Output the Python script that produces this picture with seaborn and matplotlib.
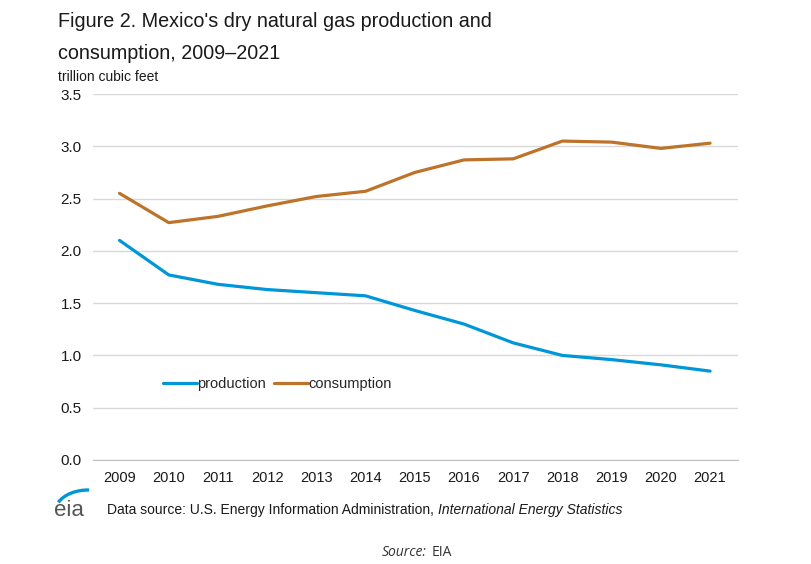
import pandas as pd
import matplotlib.pyplot as plt
import seaborn as sns
from matplotlib.patches import Arc

years = [2009, 2010, 2011, 2012, 2013, 2014, 2015, 2016, 2017, 2018, 2019, 2020, 2021]
production = [2.10, 1.77, 1.68, 1.63, 1.60, 1.57, 1.43, 1.30, 1.12, 1.00, 0.96, 0.91, 0.85]
consumption = [2.55, 2.27, 2.33, 2.43, 2.52, 2.57, 2.75, 2.87, 2.88, 3.05, 3.04, 2.98, 3.03]

df = pd.DataFrame({"year": years + years,
                   "value": production + consumption,
                   "series": ["production"] * len(years) + ["consumption"] * len(years)})

sns.set_style("white")
plt.rcParams["font.family"] = ["Liberation Sans", "DejaVu Sans"]

fig = plt.figure(figsize=(8.12, 5.64), dpi=100)
ax = fig.add_axes([0.1145, 0.1844, 0.7945, 0.6489])

sns.lineplot(data=df, x="year", y="value", hue="series",
             palette={"production": "#0096d7", "consumption": "#bd732a"},
             linewidth=2.3, ax=ax)

ax.set_xlim(2008.46, 2021.57)
ax.set_ylim(0, 3.5)
ax.set_xticks(years)
ax.set_yticks([0, 0.5, 1.0, 1.5, 2.0, 2.5, 3.0, 3.5])
ax.set_yticklabels(["0.0", "0.5", "1.0", "1.5", "2.0", "2.5", "3.0", "3.5"])
ax.yaxis.grid(True, color="#d9d9d9", linewidth=1)
ax.set_axisbelow(True)
for s in ["top", "right", "left"]:
    ax.spines[s].set_visible(False)
ax.spines["bottom"].set_color("#bfbfbf")
ax.tick_params(axis="x", length=0, labelsize=10.5, colors="#1a1a1a", pad=8)
ax.tick_params(axis="y", length=0, labelsize=11, colors="#1a1a1a", pad=8)
ax.set_xlabel("")
ax.set_ylabel("")

ax.legend(loc="center left", bbox_to_anchor=(0.1, 0.207), ncol=2, frameon=False,
          fontsize=10.5, handlelength=2.3, handletextpad=0.0, columnspacing=0.6,
          borderaxespad=0)

fig.text(0.071, 0.952, "Figure 2. Mexico's dry natural gas production and", fontsize=14.2,
         va="baseline", color="#1a1a1a")
fig.text(0.071, 0.896, "consumption, 2009\u20132021", fontsize=14.2, va="baseline", color="#1a1a1a")
fig.text(0.071, 0.857, "trillion cubic feet", fontsize=10, va="baseline", color="#1a1a1a")

t1 = fig.text(0.132, 0.095, "Data source: U.S. Energy Information Administration, ", fontsize=10,
              va="center", color="#1a1a1a")
fig.canvas.draw()
bb = t1.get_window_extent(fig.canvas.get_renderer())
fig.text(bb.x1 / fig.bbox.width, 0.095, "International Energy Statistics", fontsize=10,
         style="italic", va="center", color="#1a1a1a")

# eia logo
fig.text(0.067, 0.095, "eia", fontsize=16, va="center", color="#555555")
fig.patches.append(Arc((0.1084, 0.0922), 0.0813, 0.078, theta1=88, theta2=155,
                       transform=fig.transFigure, color="#0096d7", linewidth=2.4))

fig.text(0.525, 0.021, "Source:", fontsize=10, style="italic", ha="right", va="center",
         color="#333333", family=["Open Sans", "DejaVu Sans"])
fig.text(0.531, 0.021, "EIA", fontsize=10, ha="left", va="center",
         color="#333333", family=["Open Sans", "DejaVu Sans"])

fig.savefig("out.png", dpi=100)
